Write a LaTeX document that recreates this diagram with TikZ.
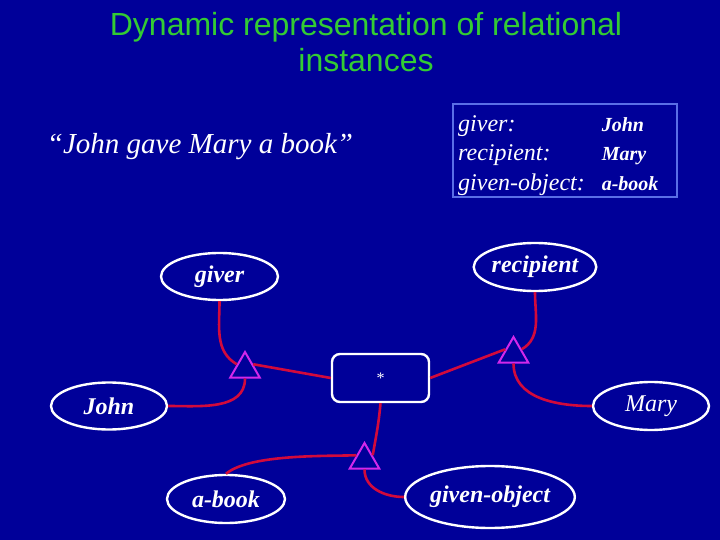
\documentclass[tikz,border=0pt]{standalone}
\usepackage{fontspec}
\setmainfont{Liberation Serif}
\setsansfont{Liberation Sans}
\usetikzlibrary{shapes.geometric}
\definecolor{slidebg}{RGB}{0,0,153}
\definecolor{titlegreen}{RGB}{51,204,51}
\definecolor{linkred}{RGB}{210,10,60}
\definecolor{tripurple}{RGB}{210,40,235}
\definecolor{boxblue}{RGB}{90,110,230}

\begin{document}
\begin{tikzpicture}[
    x=1pt, y=-1pt,
    role/.style={ellipse, draw=white, line width=2.4pt, fill=slidebg, text=white, inner sep=0pt, font=\fontsize{24}{28}\selectfont\bfseries\itshape},
    junc/.style={regular polygon, regular polygon sides=3, draw=tripurple, line width=2pt, minimum size=34pt, inner sep=0pt},
    link/.style={draw=linkred, line width=2.6pt},
]
\fill[slidebg] (0,0) rectangle (720,540);
\node[font=\sffamily\fontsize{32}{36}\selectfont, text=titlegreen, align=center] (title) at (366,42) {Dynamic representation of relational\\ instances};
\node[text=white, font=\fontsize{29}{32}\selectfont\itshape] (quote) at (200,147) {``John gave Mary a book''};
\node[draw=boxblue, line width=1.6pt, minimum width=224pt, minimum height=93pt] (slots) at (565,150.5) {};
\node[anchor=west, text=white, inner sep=0pt, font=\fontsize{24}{29.5}\selectfont\itshape] (slotlist) at (458,155)
  {\begin{tabular}{@{}l@{\hspace{17pt}}l@{}}
   giver: & {\fontsize{20}{24}\selectfont\bfseries John}\\
   recipient: & {\fontsize{20}{24}\selectfont\bfseries Mary}\\
   given-object: & {\fontsize{20}{24}\selectfont\bfseries a-book}
   \end{tabular}};
\node[role, minimum width=117pt, minimum height=47pt] (giver) at (219.5,276.5) {giver};
\node[role, minimum width=114pt, minimum height=48pt] (recip) at (535,267) {recipient};
\node[role, minimum width=116pt, minimum height=47pt] (john) at (109,406) {John};
\node[role, minimum width=116pt, minimum height=48pt, font=\fontsize{24}{28}\selectfont\itshape] (mary) at (651,406) {Mary};
\node[role, minimum width=118pt, minimum height=48pt] (abook) at (226,499) {a-book};
\node[role, minimum width=134pt, minimum height=62pt] (gobj) at (490,497) {given-object};
\node[rectangle, rounded corners=8pt, draw=white, line width=2.4pt, fill=slidebg, text=white, minimum width=97pt, minimum height=48pt, font=\fontsize{16}{18}\selectfont] (inst) at (380.5,378) {*};
\node[junc] (t1) at (245,369) {};
\node[junc] (t2) at (513.5,354) {};
\node[junc] (t3) at (364.5,460) {};
\draw[link] (giver.south) to[out=-90,in=150] (t1.side 1);
\draw[link] (t1.side 3) -- (inst.west);
\draw[link] (t1.side 2) to[out=-90,in=0] (john.east);
\draw[link] (inst.east) -- (t2.side 1);
\draw[link] (recip.south) to[out=-90,in=30] (t2.side 3);
\draw[link] (t2.side 2) to[out=-90,in=180] (mary.west);
\draw[link] (inst.south) to[out=-95,in=80] (t3.side 3);
\draw[link] (t3.side 1) to[out=182,in=40,looseness=0.6] (abook.north);
\draw[link] (t3.side 2) to[out=-90,in=180] (gobj.west);
\end{tikzpicture}
\end{document}
